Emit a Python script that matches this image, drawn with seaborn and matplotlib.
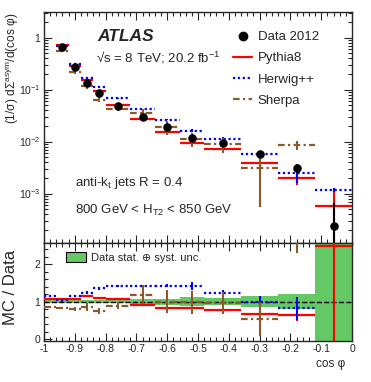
import matplotlib
matplotlib.use("Agg")
import matplotlib.pyplot as plt
import numpy as np
import seaborn as sns
from matplotlib.lines import Line2D
from matplotlib.patches import Patch
from matplotlib.ticker import MultipleLocator, LogLocator, FuncFormatter, NullFormatter

# bin edges in cos(phi)
edges = np.array([-1.0, -0.96, -0.92, -0.88, -0.84, -0.80, -0.72, -0.64,
                  -0.56, -0.48, -0.36, -0.24, -0.12, 0.0])

# top panel: (1/sigma) dSigma^asym / d(cos phi)
data = [5.0, 0.665, 0.267, 0.135, 0.0845, 0.048, 0.030, 0.0187,
        0.0115, 0.0092, 0.00567, 0.00305, 0.000237]
pythia = [5.35, 0.71, 0.286, 0.154, 0.093, 0.051, 0.0273, 0.0153,
          0.0093, 0.0071, 0.0038, 0.00195, 0.000585]
herwig = [5.7, 0.685, 0.304, 0.167, 0.114, 0.068, 0.042, 0.0265,
          0.0163, 0.0112, 0.0057, 0.0025, 0.00117]
sherpa = [4.3, 0.55, 0.214, 0.116, 0.064, 0.043, 0.0354, 0.0187,
          0.0113, 0.0088, 0.0031, 0.0085, np.nan]

# bottom panel: MC / Data
pythia_ratio = [1.07, 1.07, 1.07, 1.14, 1.10, 1.06, 0.91, 0.82,
                0.82, 0.77, 0.67, 0.64, 2.47]
herwig_ratio = [1.14, 1.03, 1.14, 1.24, 1.35, 1.41, 1.41, 1.42,
                1.42, 1.22, 1.00, 0.82, 4.9]
sherpa_ratio = [0.86, 0.83, 0.80, 0.86, 0.76, 0.89, 1.18, 1.00,
                0.98, 0.96, 0.54, 2.8, np.nan]

# relative uncertainties (as seen in the ratio panel)
data_unc = [0.03, 0.03, 0.04, 0.04, 0.05, 0.05, 0.07, 0.08,
            0.11, 0.10, 0.15, 0.20, 1.8]
pythia_unc = [0.02, 0.02, 0.02, 0.03, 0.03, 0.03, 0.04, 0.04,
              0.05, 0.05, 0.08, 0.15, 3.0]
herwig_unc = [0.03, 0.03, 0.03, 0.03, 0.03, 0.03, 0.04, 0.04,
              0.11, 0.10, 0.15, 0.30, 0.5]
sherpa_unc = [0.03, 0.03, 0.05, 0.10, 0.08, 0.10, 0.25, 0.30,
              0.30, 0.30, 0.45, 0.50, np.nan]

centers = 0.5 * (edges[:-1] + edges[1:])
widths = np.diff(edges)

red, blue, brown, green = "#ff0000", "#0000ff", "#8b5a2b", "#64c864"
styles = [
    ("Pythia8", pythia, pythia_ratio, pythia_unc, red, "-"),
    ("Herwig++", herwig, herwig_ratio, herwig_unc, blue, (0, (1, 1.2))),
    ("Sherpa", sherpa, sherpa_ratio, sherpa_unc, brown, (0, (3, 1.5, 1, 1.5))),
]

sns.set_style("ticks")
plt.rcParams["font.family"] = ["Liberation Sans", "DejaVu Sans"]
plt.rcParams["mathtext.fontset"] = "custom"
plt.rcParams["mathtext.rm"] = "Liberation Sans"
plt.rcParams["mathtext.it"] = "Liberation Sans:italic"
plt.rcParams["mathtext.default"] = "regular"

fig = plt.figure(figsize=(3.71, 3.82), dpi=100)
ax = fig.add_axes([0.1186, 0.3639, 0.8302, 0.6047])
ax2 = fig.add_axes([0.1186, 0.1073, 0.8302, 0.2566], sharex=ax)

data_arr = np.array(data)
data_err = data_arr * np.array(data_unc)
lower = np.minimum(data_err, data_arr * 0.999)

# ---- top panel
for name, vals, ratio, unc, c, ls in styles:
    vals = np.array(vals)
    ax.hlines(vals, edges[:-1], edges[1:], colors=c, linestyles=ls, lw=1.6, zorder=3)
    ax.errorbar(centers, vals, yerr=np.array(unc) * data_arr, fmt="none",
                ecolor=c, elinewidth=1.5, zorder=3)

ax.errorbar(centers, data_arr, yerr=[lower, data_err], fmt="none",
            ecolor="k", elinewidth=1.5, zorder=4)
sns.scatterplot(x=centers, y=data_arr, ax=ax, color="k", s=38,
                edgecolor="k", linewidth=0, zorder=5, legend=False)

ax.set_yscale("log")
ax.set_ylim(1.12e-4, 3.1)
ax.set_xlim(-1, 0)
ax.yaxis.set_major_locator(LogLocator(base=10, numticks=10))
ax.yaxis.set_minor_locator(LogLocator(base=10, subs=np.arange(2, 10), numticks=10))
ax.yaxis.set_minor_formatter(NullFormatter())
ax.yaxis.set_major_formatter(FuncFormatter(
    lambda v, p: "1" if abs(v - 1) < 1e-9 else "10$^{%d}$" % round(np.log10(v))))
ax.tick_params(labelbottom=False)

ax.text(0.172, 0.896, "ATLAS", transform=ax.transAxes, fontsize=12.5,
        fontweight="bold", fontstyle="italic", va="center", ha="left")
ax.text(0.169, 0.80, "\u221as = 8 TeV; 20.2 fb$^{-1}$", transform=ax.transAxes,
        fontsize=9.5, va="center", ha="left")
ax.text(0.10, 0.26, "anti-k$_{t}$ jets R = 0.4", transform=ax.transAxes,
        fontsize=9.5, va="center", ha="left")
ax.text(0.10, 0.139, "800 GeV < H$_{T2}$ < 850 GeV", transform=ax.transAxes,
        fontsize=9.5, va="center", ha="left")

handles = [Line2D([], [], color="k", marker="o", ls="none", markersize=6)]
labels = ["Data 2012"]
for name, vals, ratio, unc, c, ls in styles:
    handles.append(Line2D([], [], color=c, ls=ls, lw=1.6))
    labels.append(name)
ax.legend(handles, labels, loc="upper left", bbox_to_anchor=(0.614, 0.918),
          frameon=False, fontsize=9.5, handlelength=1.45, handletextpad=0.4,
          labelspacing=0.68, borderpad=0, borderaxespad=0)

fig.text(0.034, 0.966, "(1/\u03c3) d\u03a3$^{asym}$/d(cos \u03c6)", fontsize=8.6,
         rotation=90, ha="center", va="top")

# ---- ratio panel
band = np.array(data_unc)
ax2.bar(centers, 2 * band, bottom=1 - band, width=widths, color=green,
        edgecolor="none", zorder=1)
ax2.axhline(1, color="k", ls="--", lw=1, zorder=2)
for name, vals, ratio, unc, c, ls in styles:
    ax2.hlines(ratio, edges[:-1], edges[1:], colors=c, linestyles=ls, lw=1.6, zorder=3)
    ax2.errorbar(centers, ratio, yerr=unc, fmt="none", ecolor=c,
                 elinewidth=1.5, zorder=3)

ax2.set_ylim(-0.05, 2.56)
ax2.yaxis.set_major_locator(MultipleLocator(1))
ax2.yaxis.set_minor_locator(MultipleLocator(0.2))
ax2.xaxis.set_major_locator(MultipleLocator(0.1))
ax2.xaxis.set_minor_locator(MultipleLocator(0.02))
ax2.xaxis.set_major_formatter(FuncFormatter(lambda v, p: "%g" % round(v, 2)))

ax2.legend([Patch(facecolor=green, edgecolor="k", lw=0.8)],
           ["Data stat. \u2295 syst. unc."], loc="center left",
           bbox_to_anchor=(0.072, 0.852), frameon=False, fontsize=8,
           handlelength=1.8, handleheight=1.0, handletextpad=0.4,
           borderpad=0, borderaxespad=0)

ax2.set_ylabel("MC / Data", fontsize=12)
ax2.yaxis.set_label_coords(-0.085, 0.55)
ax2.set_xlabel("cos \u03c6", fontsize=8.5, ha="right")
ax2.xaxis.set_label_coords(0.977, -0.17)

for a in (ax, ax2):
    a.tick_params(which="both", direction="in", top=True, right=True,
                  labelsize=7.5, width=0.8, pad=2.5)
    a.tick_params(which="major", length=6)
    a.tick_params(which="minor", length=3)
    for s in a.spines.values():
        s.set_linewidth(1.0)

fig.savefig("out.png", dpi=100)
